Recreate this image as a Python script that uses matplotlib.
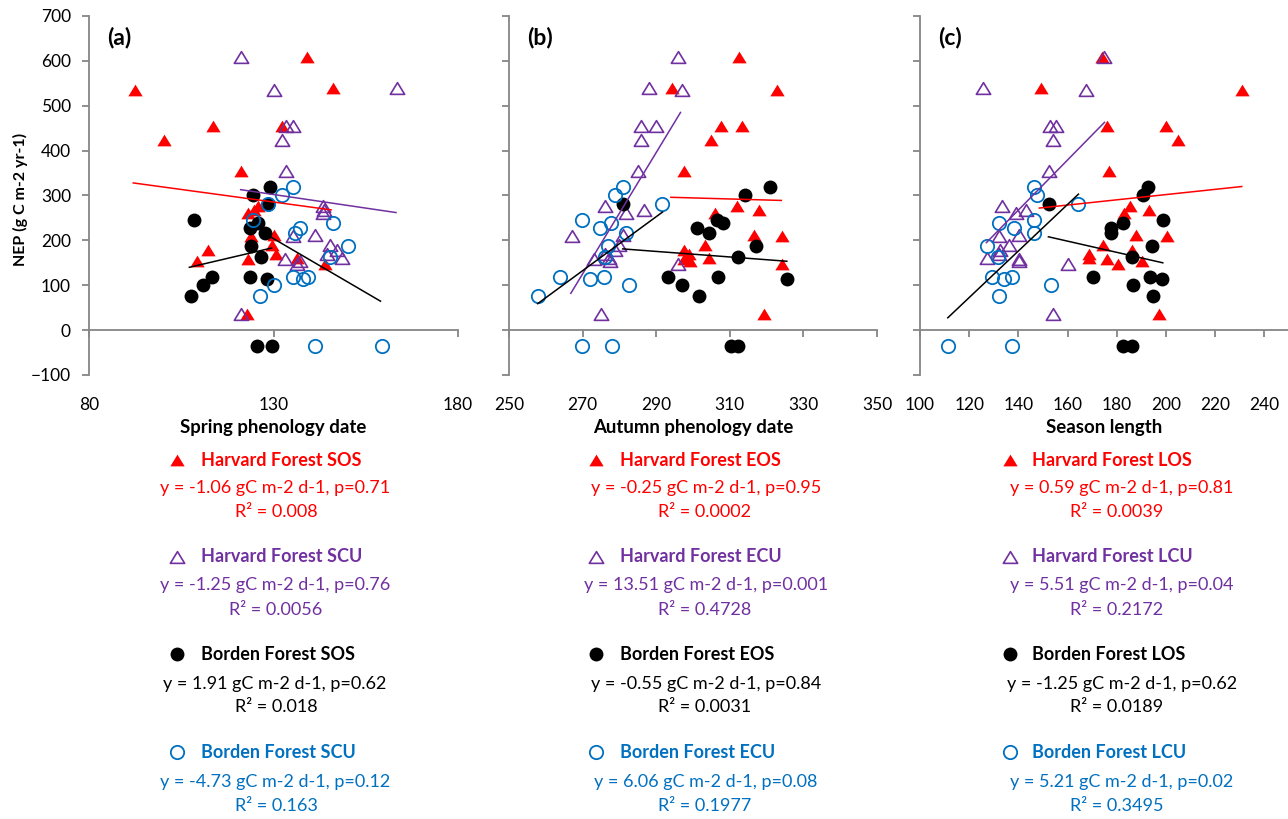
"""
NEP versus phenology dates (Harvard Forest and Borden Forest)
Three panels: spring date, autumn date and season length.
"""

import matplotlib
matplotlib.use('Agg')
import matplotlib.pyplot as plt
from matplotlib.lines import Line2D
from matplotlib.path import Path

plt.rcParams['font.family'] = ['Lato', 'DejaVu Sans']

###########################
# Data
###########################

# Harvard Forest NEP (g C m-2 yr-1)
hf_nep = [609, 539, 534, 454, 454, 423, 354, 277, 267, 261,
          212, 210, 190, 178, 169, 158, 160, 153, 147, 35]
hf_sos = [139.2, 146.0, 92.5, 132.2, 113.7, 100.4, 121.1, 125.9, 124.6, 123.2,
          130.0, 123.8, 129.5, 112.3, 130.8, 123.2, 136.5, 109.2, 144.0, 122.7]
hf_eos = [312.4, 294.2, 322.8, 307.7, 313.2, 305.0, 297.6, 312.0, 317.8, 306.1,
          316.5, 324.1, 303.2, 297.6, 299.0, 297.6, 304.3, 299.1, 324.1, 319.2]
hf_los = [173.9, 149.2, 231.0, 176.2, 200.0, 205.0, 177.0, 185.4, 193.2, 183.0,
          187.8, 200.3, 174.5, 186.0, 168.8, 175.9, 168.5, 190.1, 180.6, 197.3]
hf_scu = [121.1, 163.4, 130.2, 133.3, 135.4, 132.2, 133.3, 143.3, 143.7, 143.5,
          141.2, 135.4, 145.3, 147.1, 144.4, 133.1, 148.5, 137.2, 136.3, 121.2]
hf_ecu = [296.0, 288.0, 296.9, 285.9, 289.9, 285.9, 285.0, 276.0, 286.8, 281.8,
          280.9, 267.0, 280.0, 278.9, 276.0, 273.2, 277.3, 277.5, 295.8, 275.0]
hf_lcu = [174.9, 125.5, 167.5, 152.8, 155.3, 154.2, 152.4, 133.2, 143.1, 139.0,
          140.4, 132.3, 136.3, 132.5, 132.3, 140.4, 127.4, 140.3, 160.3, 154.2]

# Borden Forest NEP
bf_nep = [318, 302, 282, 245, 239, 227, 217, 188, 163, 118, 118, 115, 100, 77, -36, -36]
bf_sos = [129.0, 124.5, 128.6, 108.5, 125.9, 123.6, 127.7, 123.8,
          126.5, 123.6, 113.4, 128.2, 111.0, 107.7, 125.4, 129.7]
bf_eos = [321.0, 314.2, 280.9, 306.6, 308.1, 301.2, 304.3, 317.2,
          312.2, 293.1, 306.7, 325.5, 296.9, 301.6, 312.3, 310.2]
bf_los = [192.8, 190.5, 152.4, 198.6, 182.7, 177.6, 177.5, 194.2,
          186.0, 170.2, 193.5, 198.2, 186.4, 194.6, 186.0, 182.7]
bf_scu = [135.4, 132.3, 128.6, 124.5, 146.2, 137.2, 135.8, 150.3,
          145.4, 135.4, 139.4, 138.1, 130.1, 126.3, 141.2, 159.3]
bf_ecu = [280.9, 278.9, 291.6, 269.9, 277.7, 274.8, 281.8, 276.8,
          276.1, 263.8, 275.9, 271.9, 282.7, 257.9, 269.9, 277.9]
bf_lcu = [146.3, 147.4, 164.4, 146.3, 132.3, 138.2, 146.3, 127.4,
          131.6, 129.4, 137.5, 134.3, 153.1, 132.3, 111.3, 137.3]

# trend line end points (x0, x1), (y0, y1) per panel, order: HF date, HF CU, BF date, BF CU
trend_a = [((92.0, 145.6), (328, 268)), ((121.1, 163.2), (313, 262)),
           ((107.2, 129.5), (140, 183)), ((128.1, 159.0), (213, 64.5))]
trend_b = [((294.0, 324.0), (296, 289)), ((266.8, 296.6), (82, 485)),
           ((280.9, 325.5), (181, 153.5)), ((257.8, 291.7), (59, 263))]
trend_c = [((148.5, 230.8), (272, 320)), ((127.0, 175.0), (195, 463)),
           ((152.2, 198.7), (208, 150)), ((111.3, 164.4), (27.5, 303))]

# legend texts
names_a = ['Harvard Forest SOS', 'Harvard Forest SCU', 'Borden Forest SOS', 'Borden Forest SCU']
names_b = ['Harvard Forest EOS', 'Harvard Forest ECU', 'Borden Forest EOS', 'Borden Forest ECU']
names_c = ['Harvard Forest LOS', 'Harvard Forest LCU', 'Borden Forest LOS', 'Borden Forest LCU']
eq_a = ['y = -1.06 gC m-2 d-1, p=0.71', 'y = -1.25 gC m-2 d-1, p=0.76',
        'y = 1.91 gC m-2 d-1, p=0.62', 'y = -4.73 gC m-2 d-1, p=0.12']
eq_b = ['y = -0.25 gC m-2 d-1, p=0.95', 'y = 13.51 gC m-2 d-1, p=0.001',
        'y = -0.55 gC m-2 d-1, p=0.84', 'y = 6.06 gC m-2 d-1, p=0.08']
eq_c = ['y = 0.59 gC m-2 d-1, p=0.81', 'y = 5.51 gC m-2 d-1, p=0.04',
        'y = -1.25 gC m-2 d-1, p=0.62', 'y = 5.21 gC m-2 d-1, p=0.02']
r2_a = ['R² = 0.008', 'R² = 0.0056', 'R² = 0.018', 'R² = 0.163']
r2_b = ['R² = 0.0002', 'R² = 0.4728', 'R² = 0.0031', 'R² = 0.1977']
r2_c = ['R² = 0.0039', 'R² = 0.2172', 'R² = 0.0189', 'R² = 0.3495']

###########################
# Styles
###########################

RED = '#FF0000'
PURPLE = '#7030A0'
BLACK = '#000000'
BLUE = '#0070C0'
GRAY = '#868686'
FS_TICK = 12.5
FS_TXT = 13
# wide excel-like triangle, closed so the open version has all three sides
TRI = Path([(-1, -0.82), (1, -0.82), (0, 0.82), (-1, -0.82)], closed=True)

styles = [
    dict(marker=TRI, ms=10.3, mfc=RED, mec=RED, mew=0),
    dict(marker=TRI, ms=10.3, mfc='none', mec=PURPLE, mew=1.2),
    dict(marker='o', ms=10.0, mfc=BLACK, mec=BLACK, mew=0),
    dict(marker='o', ms=9.6, mfc='none', mec=BLUE, mew=1.3),
]
line_colors = [RED, PURPLE, BLACK, BLACK]
text_colors = [RED, PURPLE, BLACK, BLUE]

W, H = 1288, 819
fig = plt.figure(figsize=(W / 100, H / 100), dpi=100)


def px_rect(x0, x1, ytop, ybot):
    return [x0 / W, 1 - ybot / H, (x1 - x0) / W, (ybot - ytop) / H]


panels = [
    dict(rect=px_rect(89, 458, 16, 375), xlim=(80, 180), xticks=[80, 130, 180],
         xs=[hf_sos, hf_scu, bf_sos, bf_scu], trends=trend_a, tag='(a)',
         xlabel='Spring phenology date', names=names_a, eqs=eq_a, r2s=r2_a,
         mx=177, tx=201, ecx=275, rcx=276),
    dict(rect=px_rect(509, 877, 16, 375), xlim=(250, 350), xticks=list(range(250, 351, 20)),
         xs=[hf_eos, hf_ecu, bf_eos, bf_ecu], trends=trend_b, tag='(b)',
         xlabel='Autumn phenology date', names=names_b, eqs=eq_b, r2s=r2_b,
         mx=596, tx=620, ecx=706, rcx=705),
    dict(rect=px_rect(920, 1289, 16, 375), xlim=(100, 250), xticks=list(range(100, 241, 20)),
         xs=[hf_los, hf_lcu, bf_los, bf_lcu], trends=trend_c, tag='(c)',
         xlabel='Season length', names=names_c, eqs=eq_c, r2s=r2_c,
         mx=1010, tx=1032, ecx=1122, rcx=1117),
]

head_y = [460, 557, 654, 752]
eq_y = [488, 585, 684, 782]
r2_y = [512, 610, 707, 806]

#################################
# Plot
#################################

for i, p in enumerate(panels):
    ax = fig.add_axes(p['rect'])
    ys = [hf_nep, hf_nep, bf_nep, bf_nep]
    for k in range(4):
        ax.plot(p['xs'][k], ys[k], linestyle='none', zorder=3 + k, clip_on=False, **styles[k])
    for k, (tx, ty) in enumerate(p['trends']):
        ax.plot(tx, ty, color=line_colors[k], lw=1.1, zorder=10)

    ax.set_xlim(p['xlim'])
    ax.set_ylim(-100, 700)
    ax.set_yticks(range(-100, 701, 100))
    ax.set_xticks(p['xticks'])

    for s in ['top', 'right']:
        ax.spines[s].set_visible(False)
    for s in ['left', 'bottom']:
        ax.spines[s].set_color(GRAY)
        ax.spines[s].set_linewidth(1.3)
    ax.spines['bottom'].set_position(('data', 0))
    ax.tick_params(axis='both', direction='out', length=5, width=1.3, color=GRAY,
                   labelsize=FS_TICK)
    ax.tick_params(axis='x', labelbottom=False)
    ax.tick_params(axis='y', pad=8)
    if i > 0:
        ax.tick_params(axis='y', labelleft=False)
    else:
        ax.text(-0.187, 0.49, 'NEP (g C m-2 yr-1)', transform=ax.transAxes, rotation=90,
                ha='center', va='center', fontsize=11.5, fontweight='bold')

    # x tick labels sit at the bottom of the plot, like Excel's "low" position
    sec = ax.secondary_xaxis('bottom')
    sec.set_xticks(p['xticks'])
    sec.spines['bottom'].set_visible(False)
    sec.tick_params(length=0, pad=16, labelsize=FS_TICK)

    ax.text(0.5, -0.145, p['xlabel'], transform=ax.transAxes, ha='center', va='center',
            fontsize=13.4, fontweight='bold')
    ax.text(0.05, 0.94, p['tag'], transform=ax.transAxes, ha='left', va='center',
            fontsize=16.5, fontweight='bold')

    # legend block under each panel
    for k in range(4):
        fig.add_artist(Line2D([p['mx'] / W], [1 - head_y[k] / H], linestyle='none',
                              transform=fig.transFigure, **styles[k]))
        fig.text(p['tx'] / W, 1 - head_y[k] / H, p['names'][k], ha='left', va='center',
                 fontsize=FS_TXT, fontweight='bold', color=text_colors[k])
        fig.text(p['ecx'] / W, 1 - eq_y[k] / H, p['eqs'][k], ha='center', va='center',
                 fontsize=FS_TXT, color=text_colors[k])
        fig.text(p['rcx'] / W, 1 - r2_y[k] / H, p['r2s'][k], ha='center', va='center',
                 fontsize=FS_TXT, color=text_colors[k])

fig.savefig('out.png', dpi=100)
